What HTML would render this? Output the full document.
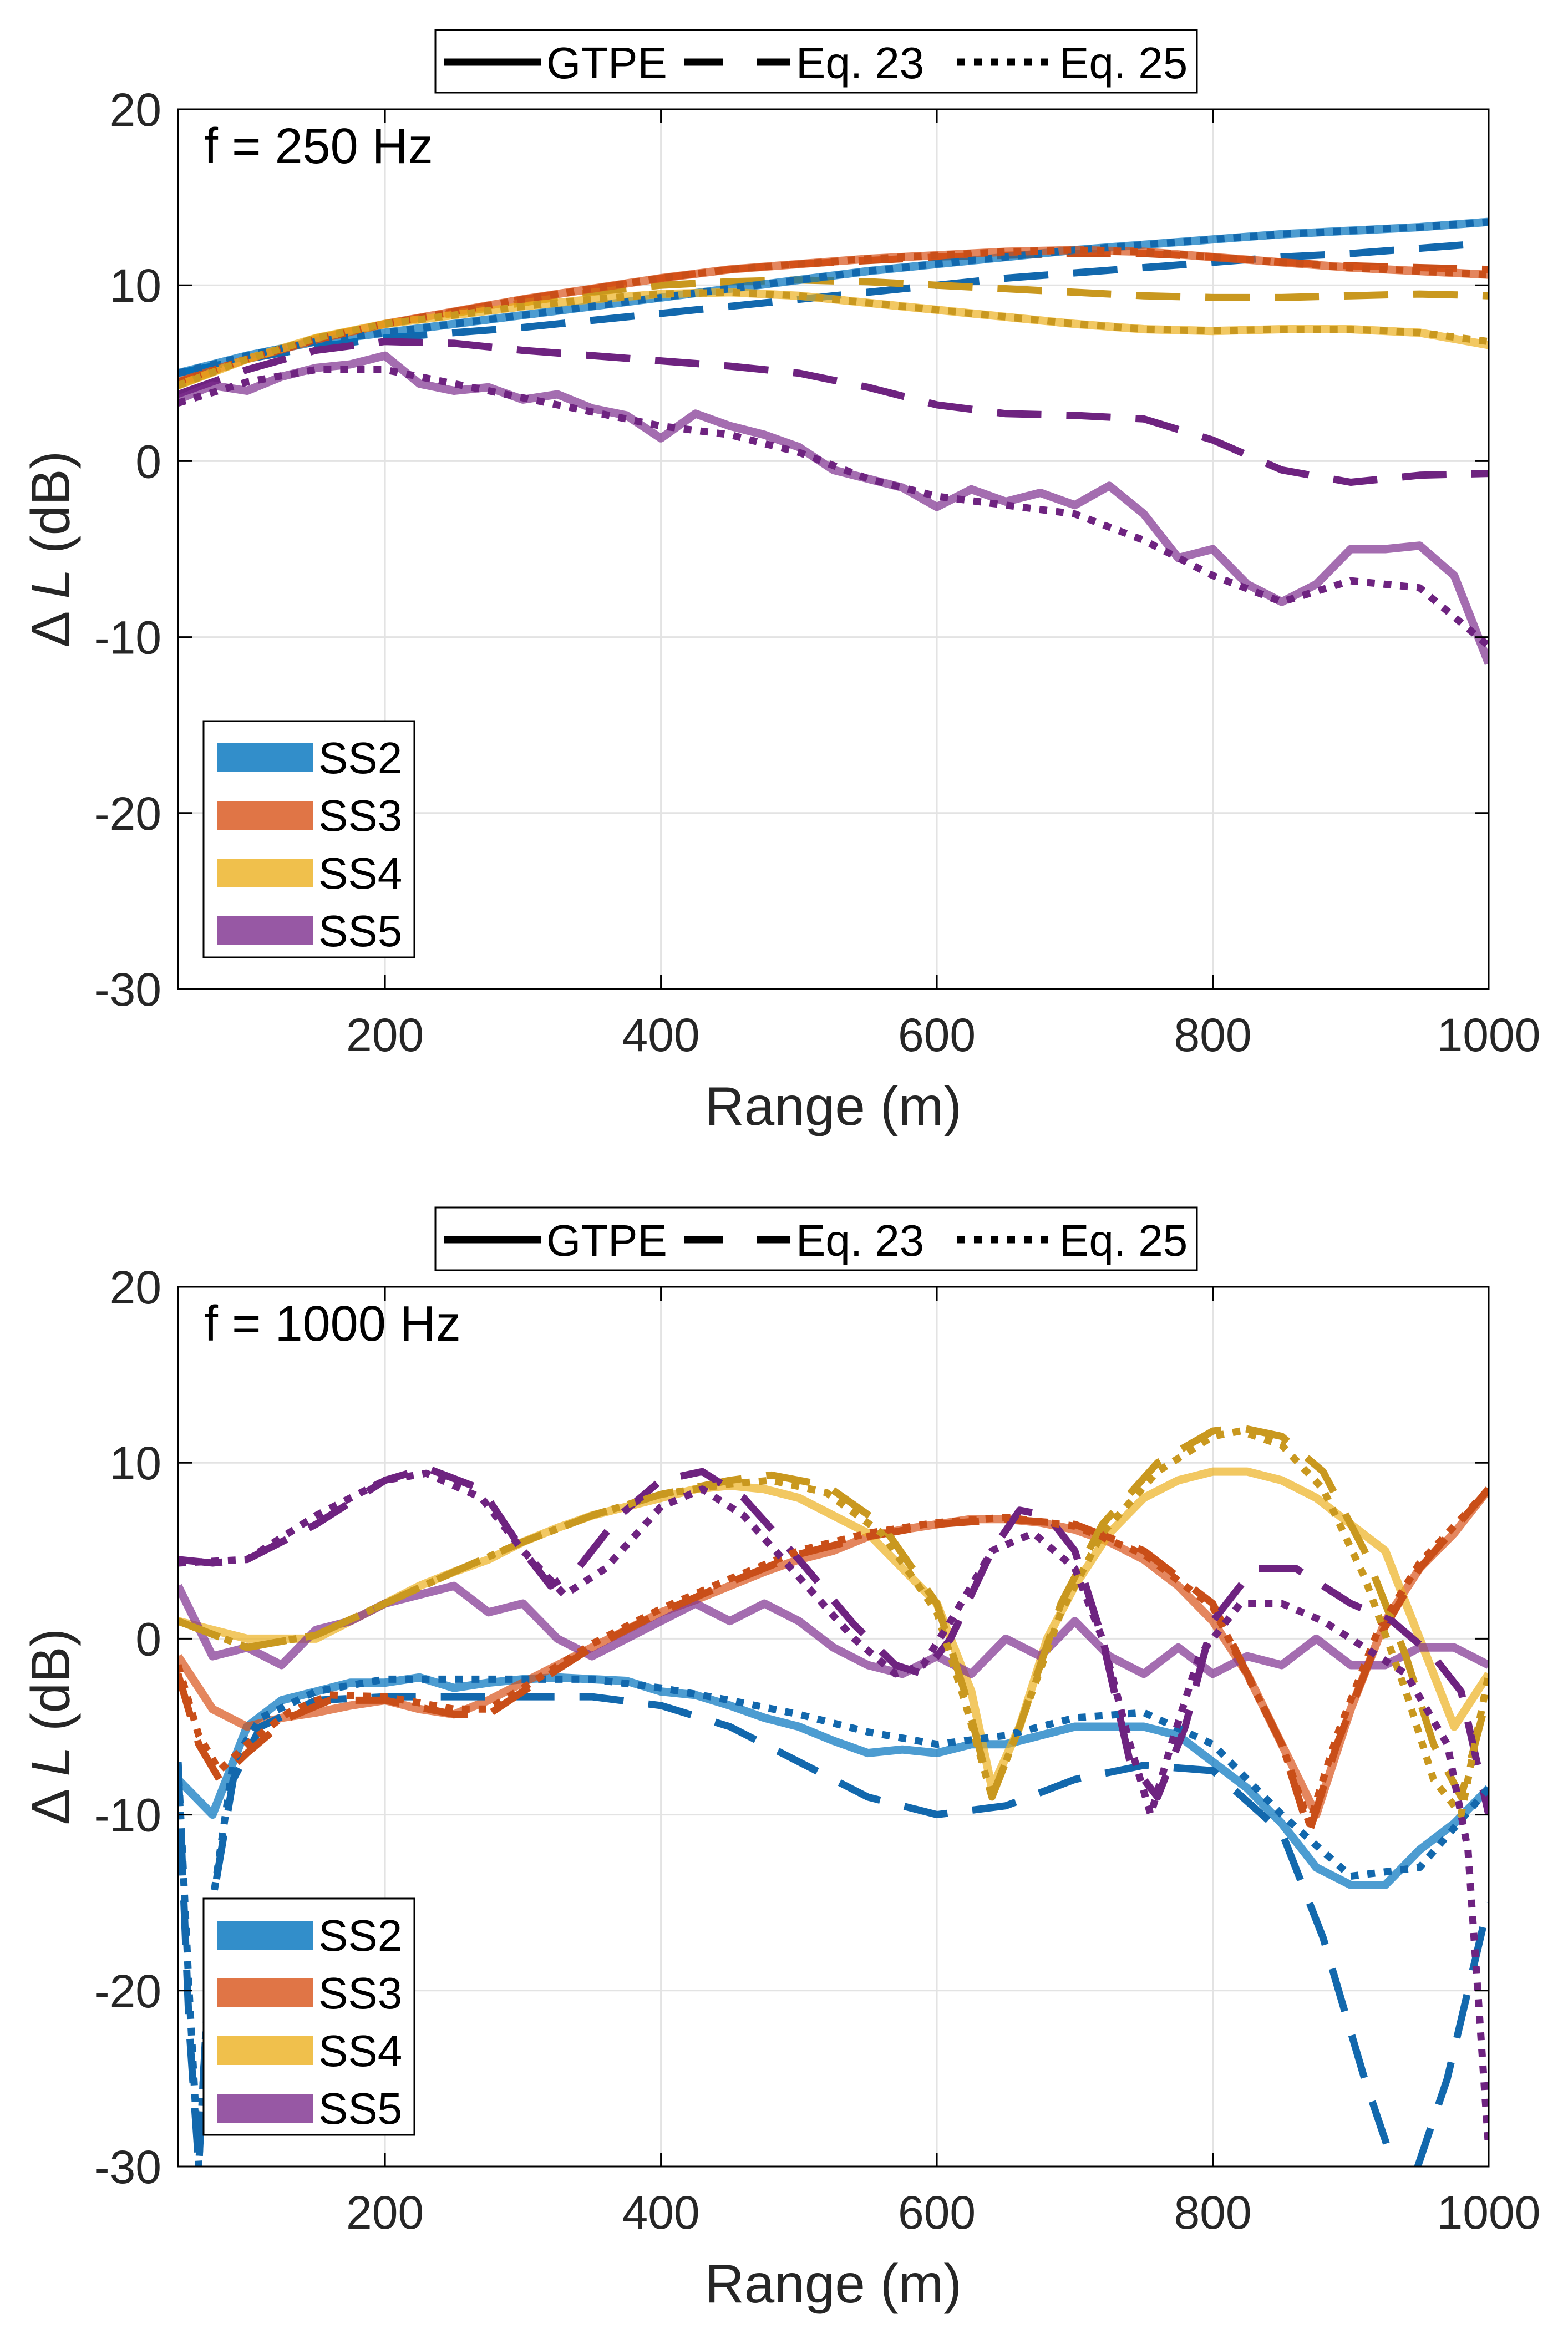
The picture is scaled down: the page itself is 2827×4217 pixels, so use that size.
<!DOCTYPE html>
<html><head><meta charset="utf-8"><style>
html,body{margin:0;padding:0;background:#fff;}
svg{display:block;font-family:"Liberation Sans",Arial,sans-serif;}
</style></head><body>
<svg id="fig" width="2827" height="4217" viewBox="0 0 2827 4217" xmlns="http://www.w3.org/2000/svg"></svg>
<script>
// ---- shared ticks ----
const xTicks=[200,400,600,800,1000];
const yTicks=[20,10,0,-10,-20,-30];
const seriesNames=['SS2','SS3','SS4','SS5'];
// ---- Panel A (250 Hz) ----
const a_x50=[50,100,150,200,250,300,350,400,450,500,550,600,650,700,750,800,850,900,950,1000];
const a_ss2_gtpe=[5,6,6.8,7.3,7.8,8.3,8.8,9.3,9.8,10.3,10.8,11.2,11.6,12,12.3,12.6,12.9,13.1,13.3,13.6];
const a_ss2_eq23=[5,5.8,6.5,7,7.3,7.6,8,8.4,8.8,9.2,9.6,10,10.4,10.7,11,11.3,11.6,11.8,12.1,12.4];
const a_ss2_eq25=[5,6,6.8,7.3,7.8,8.3,8.8,9.3,9.8,10.3,10.8,11.2,11.6,12,12.3,12.6,12.9,13.1,13.3,13.6];
const a_ss3_gtpe=[4.5,5.8,6.9,7.8,8.5,9.2,9.8,10.4,10.9,11.2,11.5,11.7,11.9,12,11.9,11.6,11.3,11,10.8,10.6];
const a_ss3_eq23=[4.5,5.8,6.9,7.8,8.5,9.2,9.8,10.4,10.9,11.2,11.4,11.6,11.7,11.8,11.8,11.6,11.3,11.1,11,10.9];
const a_ss3_eq25=[4.5,5.8,6.9,7.8,8.5,9.2,9.8,10.4,10.9,11.2,11.5,11.7,11.9,12,11.9,11.6,11.3,11,10.8,10.6];
const a_ss4_gtpe=[4.3,5.8,7,7.8,8.3,8.8,9.2,9.5,9.6,9.4,9,8.6,8.2,7.8,7.5,7.4,7.5,7.5,7.3,6.6];
const a_ss4_eq23=[4.3,5.8,7,7.8,8.4,9,9.6,10,10.2,10.3,10.2,10,9.8,9.6,9.4,9.3,9.3,9.4,9.5,9.4];
const a_ss4_eq25=[4.3,5.8,7,7.8,8.3,8.8,9.2,9.5,9.6,9.4,9,8.6,8.2,7.8,7.5,7.4,7.5,7.5,7.3,6.8];
const a_x25=[50,75,100,125,150,175,200,225,250,275,300,325,350,375,400,425,450,475,500,525,550,575,600,625,650,675,700,725,750,775,800,825,850,875,900,925,950,975,1000];
const a_ss5_gtpe=[3.5,4.3,4,4.8,5.3,5.5,6,4.4,4,4.2,3.5,3.8,3,2.6,1.3,2.7,2,1.5,0.8,-0.5,-1,-1.5,-2.6,-1.6,-2.3,-1.8,-2.5,-1.4,-3,-5.5,-5,-7,-8,-7,-5,-5,-4.8,-6.5,-11.5];
const a_ss5_eq23=[3.8,5.2,6.3,6.8,6.7,6.3,6,5.7,5.4,5,4.2,3.2,2.7,2.6,2.4,1.2,-0.5,-1.2,-0.8,-0.7];
const a_ss5_eq25=[3.3,4.5,5.2,5.2,4.4,3.6,2.8,2,1.5,0.5,-1,-2,-2.5,-3,-4.5,-6.5,-8,-6.8,-7.2,-10.5];
// ---- Panel B (1000 Hz) ----
const b_x25=[50,75,100,125,150,175,200,225,250,275,300,325,350,375,400,425,450,475,500,525,550,575,600,625,650,675,700,725,750,775,800,825,850,875,900,925,950,975,1000];
const b_ss2_gtpe=[-8,-10,-5,-3.5,-3,-2.5,-2.5,-2.2,-2.8,-2.5,-2.3,-2.2,-2.3,-2.4,-3,-3.2,-3.8,-4.5,-5,-5.8,-6.5,-6.3,-6.5,-6,-6,-5.5,-5,-5,-5,-5.5,-7,-8.5,-10.5,-13,-14,-14,-12,-10.5,-8.5];
const b_ss2_eq25_x=[50,58,65,75,90,110,150,200,250,300,350,400,450,500,550,600,650,700,750,800,850,900,950,1000];
const b_ss2_eq25=[-7,-20,-30,-15,-7,-4.5,-3,-2.3,-2.3,-2.3,-2.3,-2.8,-3.5,-4.3,-5.3,-6,-5.5,-4.5,-4.2,-6,-10,-13.5,-13,-8.5];
const b_ss2_eq23_x=[50,58,65,75,90,110,150,200,250,300,350,400,450,500,550,600,650,700,750,800,850,880,910,940,970,1000];
const b_ss2_eq23=[-7,-22,-30,-15,-8,-5,-3.5,-3.3,-3.3,-3.3,-3.3,-3.8,-5,-7,-9,-10,-9.5,-8,-7.2,-7.5,-11,-17,-25,-32,-25,-15];
const b_ss3_gtpe=[-1,-4,-5,-4.5,-4.2,-3.8,-3.5,-4,-4.3,-3.5,-2.5,-1.5,-0.5,0.5,1.5,2.2,3,3.8,4.5,5,5.8,6.2,6.5,6.8,6.8,6.6,6.2,5.5,4.5,3,1,-2,-6,-10,-4,1,4,6,8.5];
const b_ss3_eq_x=[50,65,80,100,130,160,200,250,275,300,350,400,450,500,550,600,650,700,750,800,850,870,890,920,950,1000];
const b_ss3_eq23=[-2,-6,-8,-6.5,-4.5,-3.5,-3.5,-4.3,-4.3,-3,-0.5,1.5,3.2,4.8,5.8,6.5,6.8,6.5,5,2,-6,-11,-6,0,4,8.5];
const b_ss3_eq25=[-1.5,-5.5,-7.5,-6,-4.2,-3.2,-3.3,-4,-4,-2.8,-0.3,1.7,3.4,5,6,6.6,6.9,6.4,4.8,1.8,-6,-10.5,-5.5,0.5,4.3,8.5];
const b_ss4_gtpe_x=[50,75,100,125,150,175,200,225,250,275,300,325,350,375,400,425,450,475,500,525,550,575,600,625,640,660,680,700,725,750,775,800,825,850,875,900,925,950,975,1000];
const b_ss4_gtpe=[1,0.5,0,0,0,1,2,3,3.8,4.5,5.5,6.3,7,7.5,8,8.5,8.7,8.5,8,7,6,4,2,-3,-8.5,-5,0,3,6,8,9,9.5,9.5,9,8,6.5,5,0,-5,-2];
const b_ss4_eq_x=[50,100,150,200,250,300,350,400,450,480,520,560,600,620,640,660,690,720,760,800,820,850,880,910,940,960,980,1000];
const b_ss4_eq23=[1,-0.5,0.2,2,3.8,5.5,7,8.2,9,9.3,8.7,6.5,2,-3,-9,-5,2,6.5,10,11.8,12,11.5,9.5,5,-1,-6,-9,-3];
const b_ss4_eq25=[1,-0.5,0.2,2,3.8,5.5,7,8.2,8.8,9,8.3,6,1.5,-3.5,-9,-5,1.5,6,9.5,11.5,11.8,11,8.5,3.5,-3,-8,-10,-2];
const b_ss5_gtpe=[3,-1,-0.5,-1.5,0.5,1,2,2.5,3,1.5,2,0,-1,0,1,2,1,2,1,-0.5,-1.5,-2,-1,-2,0,-1,1,-1,-2,-0.5,-2,-1,-1.5,0,-1.5,-1.5,-0.5,-0.5,-1.5];
const b_ss5_eq23_x=[50,75,100,150,200,230,270,300,320,340,370,400,430,460,500,540,570,590,610,640,660,680,700,720,740,760,780,800,830,860,900,930,960,980,1000];
const b_ss5_eq23=[4.5,4.3,4.5,6.5,9,9.7,8.5,5,3,4,7,9,9.5,8,4.5,0.8,-1.5,-2,0,5,7.3,7,5,0,-7,-9,-5,1,4,4,2,1,-1,-3,-10];
const b_ss5_eq25_x=[50,100,150,200,230,270,300,330,360,400,430,460,500,540,570,590,610,640,670,700,720,740,755,770,790,820,850,880,910,940,970,985,1000];
const b_ss5_eq25=[4.3,4.5,7,9,9.4,8,5,2.5,4,7.5,8.5,7,3.5,0,-2,-1.5,1,5,6,4,0,-6,-10,-6,-1,2,2,1,-0.5,-2,-6,-12,-29];

const NS='http://www.w3.org/2000/svg';
const svg=document.getElementById('fig');
function el(tag,attrs,parent){const e=document.createElementNS(NS,tag);for(const k in attrs)e.setAttribute(k,attrs[k]);(parent||svg).appendChild(e);return e;}

const C={SS2:'#0072BD',SS3:'#D95319',SS4:'#EDB120',SS5:'#7E2F8E'};
const CD={SS2:'#1268ad',SS3:'#c94e18',SS4:'#c9981f',SS5:'#6e2380'};
const X0=321,X1=2684,XMIN=50,XMAX=1000;
function sx(v){return X0+(v-XMIN)/(XMAX-XMIN)*(X1-X0);}

function panel(off,title,series,name){
  const Y0=197+off,Y1=1783+off;
  const sy=v=>Y0+(20-v)/50*(Y1-Y0);
  const g=el('g',{});
  
  
  const clipId='clip'+off;
  const cp=el('clipPath',{id:clipId},g);el('rect',{x:X0,y:Y0,width:X1-X0,height:Y1-Y0},cp);
  xTicks.forEach(t=>{const l=el('line',{x1:sx(t),x2:sx(t),y1:Y0,y2:Y1,stroke:'#e3e3e3','stroke-width':3},g);});
  yTicks.forEach(t=>{const l=el('line',{x1:X0,x2:X1,y1:sy(t),y2:sy(t),stroke:'#e3e3e3','stroke-width':3},g);});
  const pg=el('g',{'clip-path':'url(#'+clipId+')'},g);
  series.forEach(s=>{
    const d=s.xs.map((x,i)=>(i?'L':'M')+sx(x).toFixed(1)+','+sy(s.ys[i]).toFixed(1)).join('');
    let a={d:d,fill:'none','stroke-linejoin':'round'};
    if(s.type==='gtpe'){a.stroke=C[s.n];a['stroke-width']=15;a.opacity=0.7;}
    else if(s.type==='eq23'){a.stroke=CD[s.n];a['stroke-width']=13;a['stroke-dasharray']='80,45';}
    else {a.stroke=CD[s.n];a['stroke-width']=13;a['stroke-dasharray']='14,16';}
    const p=el('path',a,pg);
    
    
  });
  const bx=el('rect',{x:X0,y:Y0,width:X1-X0,height:Y1-Y0,fill:'none',stroke:'#000','stroke-width':3},g);
  
  xTicks.forEach(t=>{
    el('line',{x1:sx(t),x2:sx(t),y1:Y1,y2:Y1-25,stroke:'#000','stroke-width':3},g);
    el('line',{x1:sx(t),x2:sx(t),y1:Y0,y2:Y0+25,stroke:'#000','stroke-width':3},g);
    const tx=el('text',{x:sx(t),y:Y1+112,'font-size':84,'text-anchor':'middle',fill:'#262626'},g);tx.textContent=t;
    
  });
  yTicks.forEach(t=>{
    el('line',{x1:X0,x2:X0+25,y1:sy(t),y2:sy(t),stroke:'#000','stroke-width':3},g);
    el('line',{x1:X1,x2:X1-25,y1:sy(t),y2:sy(t),stroke:'#000','stroke-width':3},g);
    const tx=el('text',{x:X0-30,y:sy(t)+30,'font-size':84,'text-anchor':'end',fill:'#262626'},g);tx.textContent=t;
    
  });
  const xl=el('text',{x:(X0+X1)/2,y:Y1+245,'font-size':98,'text-anchor':'middle',fill:'#262626'},g);xl.textContent='Range (m)';
  
  const yl=el('text',{x:0,y:0,'font-size':98,'text-anchor':'middle',fill:'#262626',transform:'translate(125,'+((Y0+Y1)/2)+') rotate(-90)'},g);
  yl.innerHTML='Δ <tspan font-style="italic">L</tspan> (dB)';
  
  const tt=el('text',{x:368,y:Y0+97,'font-size':90,fill:'#000'},g);tt.textContent=title;
  
  const LY=54+off;
  const lg=el('g',{},g);
  
  el('rect',{x:785,y:LY,width:1373,height:113,fill:'#fff',stroke:'#000','stroke-width':3},lg);
  const cy=LY+58;
  el('line',{x1:801,x2:976,y1:cy,y2:cy,stroke:'#000','stroke-width':13},lg);
  el('line',{x1:1233,x2:1424,y1:cy,y2:cy,stroke:'#000','stroke-width':13,'stroke-dasharray':'70,62'},lg);
  el('line',{x1:1726,x2:1890,y1:cy,y2:cy,stroke:'#000','stroke-width':13,'stroke-dasharray':'14,16'},lg);
  [['GTPE',985],['Eq. 23',1435],['Eq. 25',1910]].forEach(([t,x])=>{const e=el('text',{x:x,y:cy+29,'font-size':80,fill:'#000'},lg);e.textContent=t;
    });
  const sg=el('g',{},g);
  
  el('rect',{x:367,y:1300+off,width:380,height:426,fill:'#fff',stroke:'#000','stroke-width':3},sg);
  seriesNames.forEach((n,i)=>{
    const yy=1366+off+i*104;
    el('line',{x1:391,x2:564,y1:yy,y2:yy,stroke:C[n],'stroke-width':52,opacity:0.8},sg);
    const e=el('text',{x:574,y:yy+28,'font-size':80,fill:'#000'},sg);e.textContent=n;
    
  });
}

panel(0,'f = 250 Hz',[
 {n:'SS2',type:'eq23',xs:a_x50,ys:a_ss2_eq23},{n:'SS3',type:'eq23',xs:a_x50,ys:a_ss3_eq23},{n:'SS4',type:'eq23',xs:a_x50,ys:a_ss4_eq23},{n:'SS5',type:'eq23',xs:a_x50,ys:a_ss5_eq23},
 {n:'SS2',type:'gtpe',xs:a_x50,ys:a_ss2_gtpe},{n:'SS3',type:'gtpe',xs:a_x50,ys:a_ss3_gtpe},{n:'SS4',type:'gtpe',xs:a_x50,ys:a_ss4_gtpe},{n:'SS5',type:'gtpe',xs:a_x25,ys:a_ss5_gtpe},
 {n:'SS2',type:'eq25',xs:a_x50,ys:a_ss2_eq25},{n:'SS3',type:'eq25',xs:a_x50,ys:a_ss3_eq25},{n:'SS4',type:'eq25',xs:a_x50,ys:a_ss4_eq25},{n:'SS5',type:'eq25',xs:a_x50,ys:a_ss5_eq25}
],'panel-250hz');

panel(2123,'f = 1000 Hz',[
 {n:'SS2',type:'gtpe',xs:b_x25,ys:b_ss2_gtpe},{n:'SS3',type:'gtpe',xs:b_x25,ys:b_ss3_gtpe},{n:'SS4',type:'gtpe',xs:b_ss4_gtpe_x,ys:b_ss4_gtpe},{n:'SS5',type:'gtpe',xs:b_x25,ys:b_ss5_gtpe},
 {n:'SS2',type:'eq23',xs:b_ss2_eq23_x,ys:b_ss2_eq23},{n:'SS3',type:'eq23',xs:b_ss3_eq_x,ys:b_ss3_eq23},{n:'SS4',type:'eq23',xs:b_ss4_eq_x,ys:b_ss4_eq23},{n:'SS5',type:'eq23',xs:b_ss5_eq23_x,ys:b_ss5_eq23},
 {n:'SS2',type:'eq25',xs:b_ss2_eq25_x,ys:b_ss2_eq25},{n:'SS3',type:'eq25',xs:b_ss3_eq_x,ys:b_ss3_eq25},{n:'SS4',type:'eq25',xs:b_ss4_eq_x,ys:b_ss4_eq25},{n:'SS5',type:'eq25',xs:b_ss5_eq25_x,ys:b_ss5_eq25}
],'panel-1000hz');
</script>
</body></html>
